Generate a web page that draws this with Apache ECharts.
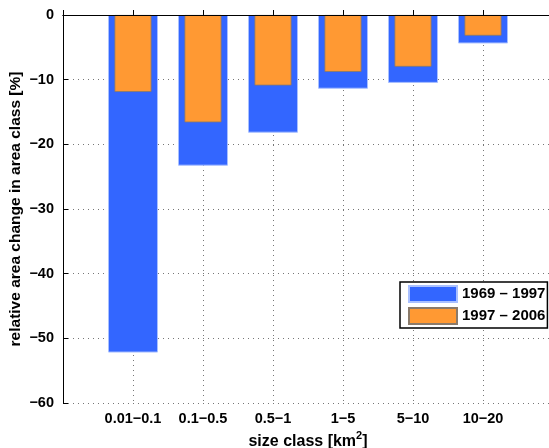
<!DOCTYPE html>
<html>
<head>
<meta charset="utf-8">
<script src="https://cdn.jsdelivr.net/npm/echarts@6/dist/echarts.min.js"></script>
<style>
html, body { margin: 0; padding: 0; background: #fff; }
#chart { width: 549px; height: 448px; }
</style>
</head>
<body>
<div id="chart"></div>
<script>
// size classes (km2), the axis has a blank slot on each side like the original plot
var categories = ['0.01\u22120.1', '0.1\u22120.5', '0.5\u22121', '1\u22125', '5\u221210', '10\u221220'];
var change_1969_1997 = [-52.2, -23.3, -18.2, -11.4, -10.5, -4.4];
var change_1997_2006 = [-11.9, -16.6, -10.9, -8.8, -8.0, -3.2];
var seriesNames = ['1969 \u2013 1997', '1997 \u2013 2006'];

var font = "'Liberation Sans', Arial, Helvetica, sans-serif";
var axisCats = [''].concat(categories, ['']);

function pad(arr) {
    return ['-'].concat(arr, ['-']);
}
function minus(v) {
    return String(v).replace('-', '\u2212');
}

var chart = echarts.init(document.getElementById('chart'));
var dotted = { show: true, lineStyle: { color: '#777', width: 1, type: [1, 4] } };

var option = {
    animation: false,
    backgroundColor: '#fff',
    textStyle: { fontFamily: font },
    grid: { left: 63, right: -4, top: 15, bottom: 45, outerBoundsMode: 'none' },
    legend: {
        data: seriesNames,
        orient: 'vertical',
        left: 400,
        top: 282,
        itemWidth: 48,
        itemHeight: 16,
        itemGap: 4,
        padding: [3, 2, 3, 8],
        borderColor: '#000',
        borderWidth: 1.5,
        backgroundColor: '#fff',
        icon: 'rect',
        textStyle: { fontFamily: font, fontWeight: 'bold', fontSize: 15, color: '#000', lineHeight: 17 }
    },
    xAxis: [
        {
            type: 'category',
            data: axisCats,
            boundaryGap: false,
            position: 'bottom',
            axisLine: { lineStyle: { color: '#000', width: 1 } },
            axisTick: { inside: true, length: 5, lineStyle: { color: '#000' } },
            axisLabel: { fontFamily: font, fontWeight: 'bold', fontSize: 14.5, color: '#000', margin: 8, interval: 0 },
            splitLine: dotted,
            name: '{t|size class [km}{s|2}{t|]}',
            nameLocation: 'middle',
            nameGap: 27,
            nameMoveOverlap: false,
            nameTextStyle: {
                rich: {
                    t: { fontFamily: font, fontWeight: 'bold', fontSize: 16, color: '#000', lineHeight: 20, verticalAlign: 'bottom' },
                    s: { fontFamily: font, fontWeight: 'bold', fontSize: 11, color: '#000', verticalAlign: 'top' }
                }
            }
        },
        {
            type: 'category',
            data: axisCats,
            boundaryGap: false,
            position: 'top',
            z: 10,
            axisLine: { lineStyle: { color: '#000', width: 1 } },
            axisTick: { show: false },
            axisLabel: { show: false },
            splitLine: { show: false }
        }
    ],
    yAxis: {
        type: 'value',
        min: -60,
        max: 0,
        interval: 10,
        axisLine: { show: true, lineStyle: { color: '#000', width: 1 } },
        axisTick: { show: true, inside: true, length: 5, lineStyle: { color: '#000' } },
        axisLabel: {
            fontFamily: font, fontWeight: 'bold', fontSize: 14.5, color: '#000', margin: 9,
            formatter: function (v) { return minus(v); }
        },
        splitLine: dotted,
        name: 'relative area change in area class [%]',
        nameLocation: 'middle',
        nameGap: 39,
        nameMoveOverlap: false,
        nameTextStyle: { fontFamily: font, fontWeight: 'bold', fontSize: 15.5, color: '#000' }
    },
    series: [
        {
            name: seriesNames[0],
            type: 'bar',
            xAxisIndex: 0,
            barWidth: 50,
            data: pad(change_1969_1997),
            itemStyle: { color: '#3366ff', borderColor: '#a9c0ff', borderWidth: 1 }
        },
        {
            name: seriesNames[1],
            type: 'bar',
            xAxisIndex: 1,
            barWidth: 37,
            data: pad(change_1997_2006),
            itemStyle: { color: '#ff9933', borderColor: '#8a7a6a', borderWidth: 0.8 }
        }
    ]
};
chart.setOption(option);
</script>
</body>
</html>
